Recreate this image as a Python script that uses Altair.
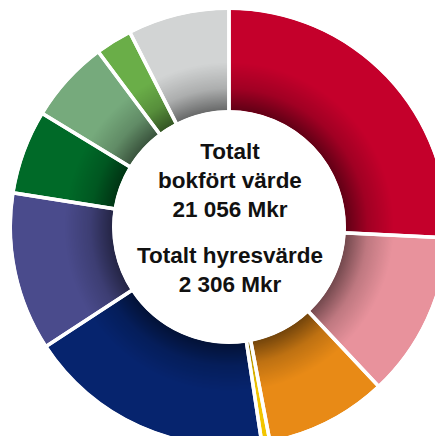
import altair as alt
import pandas as pd

# Slice data (clockwise from 12 o'clock), shares in percent
categories = ["A", "B", "C", "D", "E", "F", "G", "H", "I", "J"]
shares = [25.8, 12.2, 9.0, 0.6, 18.2, 11.7, 6.2, 6.1, 2.7, 7.5]
colors = ["#C4002B", "#E8929C", "#E88A16", "#F2C500", "#06246E",
          "#4A4B8C", "#006A28", "#76AA7C", "#6AAE48", "#D2D4D4"]

text_block_1 = ["Totalt", "bokfört värde", "21 056 Mkr"]
text_block_2 = ["Totalt hyresvärde", "2 306 Mkr"]

df = pd.DataFrame({"cat": categories, "share": shares, "idx": list(range(len(categories)))})

CX, CY = 221, 219
R_OUT, R_IN = 217, 117

color_scale = alt.Scale(domain=categories, range=colors)

base = alt.Chart(df).encode(
    theta=alt.Theta("share:Q", stack=True),
    order=alt.Order("idx:Q"),
    color=alt.Color("cat:N", scale=color_scale, legend=None),
    x=alt.value(CX),
    y=alt.value(CY),
)

slices = base.mark_arc(radius=R_OUT, radius2=R_IN, strokeWidth=0)

frac = R_IN / R_OUT
shade = alt.Chart(pd.DataFrame({"k": [1]})).mark_arc(
    theta=0, theta2=6.283185307,
    radius=R_OUT, radius2=R_IN,
    fill=alt.Gradient(
        gradient="radial",
        x1=0.5, y1=0.5, r1=0,
        x2=0.5, y2=0.5, r2=0.5,
        stops=[
            alt.GradientStop(offset=0, color="rgba(0,0,0,0.5)"),
            alt.GradientStop(offset=frac, color="rgba(0,0,0,0.5)"),
            alt.GradientStop(offset=frac + 0.1, color="rgba(0,0,0,0.18)"),
            alt.GradientStop(offset=frac + 0.22, color="rgba(0,0,0,0)"),
            alt.GradientStop(offset=1, color="rgba(0,0,0,0)"),
        ],
    ),
    strokeWidth=0,
).encode(x=alt.value(CX), y=alt.value(CY))

separators = base.mark_arc(
    radius=R_OUT + 2, radius2=R_IN - 2, fillOpacity=0, stroke="white", strokeWidth=3.5
)

txt1 = alt.Chart(pd.DataFrame({"k": [1]})).mark_text(
    text=text_block_1, font="Liberation Sans", fontWeight="bold", fontSize=22.5,
    lineHeight=29, align="center", baseline="alphabetic", color="#111111",
).encode(x=alt.value(222), y=alt.value(151))

txt2 = alt.Chart(pd.DataFrame({"k": [1]})).mark_text(
    text=text_block_2, font="Liberation Sans", fontWeight="bold", fontSize=22.5,
    lineHeight=29, align="center", baseline="alphabetic", color="#111111",
).encode(x=alt.value(222), y=alt.value(255))

chart = alt.layer(slices, shade, separators, txt1, txt2).properties(
    width=427, height=428, padding=0,
    autosize=alt.AutoSizeParams(type="none"),
).configure_view(stroke=None)

chart.save("out.html", embed_options={"renderer": "svg", "actions": False})
